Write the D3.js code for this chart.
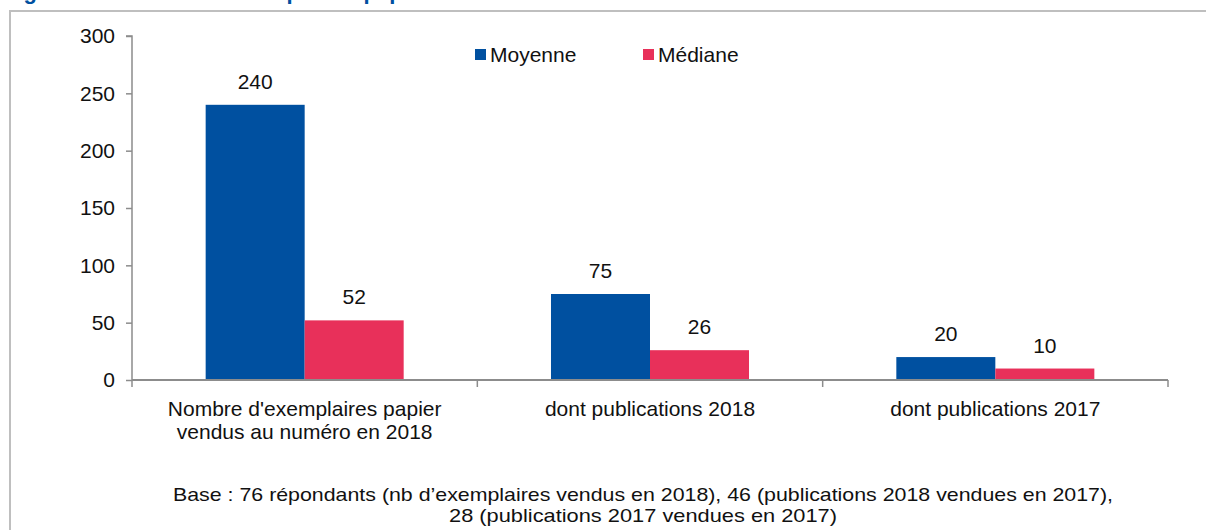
<!DOCTYPE html>
<html>
<head>
<meta charset="utf-8">
<script src="https://cdn.jsdelivr.net/npm/d3@7"></script>
<style>
  html, body { margin: 0; padding: 0; background: #fff; }
  svg { display: block; font-family: "Liberation Sans", Arial, sans-serif; }
</style>
</head>
<body>
<div id="chart"></div>
<script>
const WIDTH = 1206;
const HEIGHT = 530;

const categories = [
  ["Nombre d'exemplaires papier", "vendus au numéro en 2018"],
  ["dont publications 2018"],
  ["dont publications 2017"]
];
const seriesNames = ["Moyenne", "Médiane"];
const moyenne = [240, 75, 20];
const mediane = [52, 26, 10];
const yTicks = [0, 50, 100, 150, 200, 250, 300];
const footnote = [
  "Base : 76 répondants (nb d’exemplaires vendus en 2018), 46 (publications 2018 vendues en 2017),",
  "28 (publications 2017 vendues en 2017)"
];
const title = "Figure 14 : Nombre d’exemplaires papier vendus au numéro en 2018";

const colors = { "Moyenne": "#0050a0", "Médiane": "#e8305a" };
const axisColor = "#8c8c8c";
const FS = 21;

const svg = d3.select('#chart')
  .append('svg')
  .attr('width', WIDTH)
  .attr('height', HEIGHT);

// title, cut by the top edge as in the source
svg.append('text')
  .attr('x', 4)
  .attr('y', -1)
  .attr('fill', '#0050a0')
  .attr('font-weight', 'bold')
  .attr('font-size', 22)
  .text(title);

// frame
svg.append('path')
  .attr('d', `M10,${HEIGHT + 5} V11 H${WIDTH + 5}`)
  .attr('fill', 'none')
  .attr('stroke', '#bfbfbf')
  .attr('stroke-width', 2);

const catKeys = categories.map((c, i) => i);

const xScale = d3.scaleBand()
  .domain(catKeys)
  .range([132, 1168])
  .paddingInner(0)
  .paddingOuter(0);

const subScale = d3.scaleBand()
  .domain(seriesNames)
  .range([0, xScale.bandwidth()])
  .paddingInner(0)
  .paddingOuter(0.744);

const yScale = d3.scaleLinear()
  .domain([0, 300])
  .range([380, 36]);

const rows = catKeys.map(i => ({
  key: i,
  values: [
    { name: "Moyenne", value: moyenne[i] },
    { name: "Médiane", value: mediane[i] }
  ]
}));

// y axis
const yAxis = svg.append('g')
  .attr('transform', `translate(${xScale.range()[0]},0)`)
  .call(d3.axisLeft(yScale).tickValues(yTicks).tickSize(6).tickPadding(11));
yAxis.selectAll('path, line').attr('stroke', axisColor).attr('stroke-width', 1.5);
yAxis.select('.domain').attr('d', `M-6,${yScale(300)}H0V${yScale(0)}`);
yAxis.selectAll('text')
  .attr('font-size', FS)
  .attr('font-family', '"Liberation Sans", Arial, sans-serif')
  .attr('fill', '#111');

// bars
const groups = svg.selectAll('g.cat')
  .data(rows)
  .enter()
  .append('g')
  .attr('class', 'cat')
  .attr('transform', d => `translate(${xScale(d.key)},0)`);

groups.selectAll('rect')
  .data(d => d.values)
  .enter()
  .append('rect')
  .attr('x', d => subScale(d.name))
  .attr('y', d => yScale(d.value))
  .attr('width', subScale.bandwidth())
  .attr('height', d => yScale(0) - yScale(d.value))
  .attr('fill', d => colors[d.name]);

groups.selectAll('text.val')
  .data(d => d.values)
  .enter()
  .append('text')
  .attr('class', 'val')
  .attr('text-anchor', 'middle')
  .attr('x', d => subScale(d.name) + subScale.bandwidth() / 2)
  .attr('y', d => yScale(d.value) - 16)
  .attr('font-size', FS)
  .attr('fill', '#111')
  .text(d => d.value);

// x axis
const xAxis = svg.append('g')
  .attr('transform', `translate(0,${yScale(0)})`);
xAxis.append('line')
  .attr('x1', xScale.range()[0])
  .attr('x2', xScale.range()[1])
  .attr('stroke', axisColor)
  .attr('stroke-width', 2);
xAxis.selectAll('line.tick')
  .data(catKeys.map(k => xScale(k)).concat([xScale.range()[1]]))
  .enter()
  .append('line')
  .attr('class', 'tick')
  .attr('x1', d => d)
  .attr('x2', d => d)
  .attr('y1', 0)
  .attr('y2', 7)
  .attr('stroke', axisColor)
  .attr('stroke-width', 1.5);

const catLabels = svg.selectAll('text.cat')
  .data(rows)
  .enter()
  .append('text')
  .attr('class', 'cat')
  .attr('text-anchor', 'middle')
  .attr('font-size', FS)
  .attr('fill', '#111')
  .attr('x', d => xScale(d.key) + xScale.bandwidth() / 2)
  .attr('y', 416);
catLabels.selectAll('tspan')
  .data(d => categories[d.key])
  .enter()
  .append('tspan')
  .attr('x', function () { return this.parentNode.getAttribute('x'); })
  .attr('dy', (d, i) => i === 0 ? 0 : 23)
  .text(d => d);

// legend
const legendX = [475, 643];
const legend = svg.selectAll('g.legend')
  .data(seriesNames)
  .enter()
  .append('g')
  .attr('class', 'legend')
  .attr('transform', (d, i) => `translate(${legendX[i]},49)`);
legend.append('rect')
  .attr('width', 11)
  .attr('height', 11)
  .attr('fill', d => colors[d]);
legend.append('text')
  .attr('x', 15)
  .attr('y', 13)
  .attr('font-size', FS)
  .attr('fill', '#111')
  .text(d => d);

// footnote
svg.selectAll('text.foot')
  .data(footnote)
  .enter()
  .append('text')
  .attr('class', 'foot')
  .attr('text-anchor', 'middle')
  .attr('x', 643)
  .attr('y', (d, i) => 501 + i * 21)
  .attr('font-size', 19)
  .attr('textLength', (d, i) => i === 0 ? 940 : 388)
  .attr('lengthAdjust', 'spacingAndGlyphs')
  .attr('fill', '#111')
  .text(d => d);
</script>
</body>
</html>
